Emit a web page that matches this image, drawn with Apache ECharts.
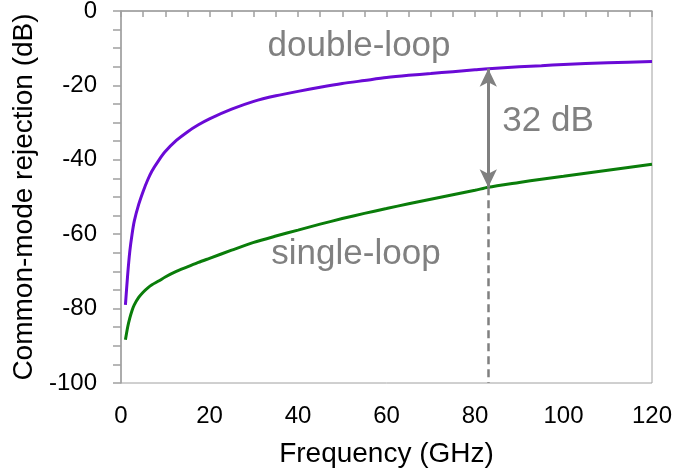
<!DOCTYPE html>
<html>
<head>
<meta charset="utf-8">
<script src="https://cdn.jsdelivr.net/npm/echarts@6/dist/echarts.min.js"></script>
<style>
  html, body { margin: 0; padding: 0; background: #fff; }
  #main { width: 675px; height: 471px; }
</style>
</head>
<body>
<div id="main"></div>
<script>
// frequency points (GHz)
const freq = [1, 1.5, 2, 2.5, 3, 4, 5, 6, 7, 8.5, 10, 12.5, 15, 17.5, 20, 25, 30, 35, 40, 45, 50, 55, 60, 65, 70, 75, 80, 83, 90, 95, 100, 110, 120];
// common-mode rejection (dB)
const doubleLoop = [-79, -71, -64.5, -60, -56.5, -52, -48.5, -45.5, -43, -40.2, -37.8, -34.8, -32.5, -30.6, -29, -26.4, -24.3, -22.8, -21.6, -20.5, -19.5, -18.7, -17.9, -17.3, -16.8, -16.3, -15.8, -15.5, -15.0, -14.7, -14.4, -13.9, -13.6];
const singleLoop = [-88.4, -85, -82.5, -80.5, -79, -77, -75.6, -74.5, -73.6, -72.6, -71.5, -70, -68.8, -67.6, -66.5, -64.3, -62.2, -60.5, -58.9, -57.3, -55.8, -54.4, -53.1, -51.8, -50.6, -49.4, -48.2, -47.4, -46.1, -45.2, -44.4, -42.8, -41.2];
// annotation
const gapFreq = 83;
const gapTop = -15.5;
const gapBottom = -47.4;

const font = 'Liberation Sans, Arial, sans-serif';
const gray = '#808080';

function pairs(xs, ys) {
  return xs.map((x, i) => [x, ys[i]]);
}

const chart = echarts.init(document.getElementById('main'));
chart.setOption({
  animation: false,
  textStyle: { fontFamily: font },
  grid: {
    left: 121, right: 23, top: 11, bottom: 88,
    outerBoundsMode: 'none', containLabel: false,
    show: true, borderColor: '#a0a0a0', borderWidth: 1
  },
  xAxis: {
    type: 'value', min: 0, max: 120, interval: 5,
    name: 'Frequency (GHz)', nameLocation: 'middle', nameGap: 57,
    nameTextStyle: { fontSize: 28, color: '#000', fontFamily: font },
    axisLine: { lineStyle: { color: '#a0a0a0', width: 1.5 } },
    axisTick: { show: true, inside: false, length: 6, lineStyle: { color: '#a0a0a0', width: 1.5 } },
    axisLabel: {
      fontSize: 24, color: '#000', margin: 21, fontFamily: font,
      formatter: v => (v % 20 === 0 ? String(v) : '')
    },
    splitLine: { show: false }
  },
  yAxis: {
    type: 'value', min: -100, max: 0, interval: 5,
    name: 'Common-mode rejection (dB)', nameLocation: 'middle', nameGap: 80,
    nameTextStyle: { fontSize: 28, color: '#000', fontFamily: font },
    axisLine: { show: true, lineStyle: { color: '#a0a0a0', width: 1.5 } },
    axisTick: { show: true, inside: false, length: 8, lineStyle: { color: '#a0a0a0', width: 1.5 } },
    axisLabel: {
      fontSize: 24, color: '#000', margin: 24, fontFamily: font,
      formatter: v => (v % 20 === 0 ? String(v) : '')
    },
    splitLine: { show: false }
  },
  series: [
    {
      name: 'double-loop', type: 'line', smooth: 0.25, showSymbol: false,
      data: pairs(freq, doubleLoop),
      lineStyle: { color: '#6a0ad6', width: 3 },
      itemStyle: { color: '#6a0ad6' },
      markPoint: {
        symbol: 'circle', symbolSize: 0, silent: true,
        label: { show: true, position: 'inside', fontSize: 35, color: gray, fontFamily: font },
        data: [
          { coord: [53.8, -9.4], value: 'double-loop', label: { formatter: 'double-loop' } },
          { coord: [96.5, -29.6], value: '32 dB', label: { formatter: '32 dB' } }
        ]
      },
      markLine: {
        silent: true, symbol: ['arrow', 'arrow'], symbolSize: [13, 18],
        lineStyle: { color: gray, width: 3, type: 'solid' },
        label: { show: false },
        data: [[{ coord: [gapFreq, gapTop] }, { coord: [gapFreq, gapBottom] }]]
      }
    },
    {
      name: 'single-loop', type: 'line', smooth: 0.25, showSymbol: false,
      data: pairs(freq, singleLoop),
      lineStyle: { color: '#0a7d0a', width: 3 },
      itemStyle: { color: '#0a7d0a' },
      markPoint: {
        symbol: 'circle', symbolSize: 0, silent: true,
        label: { show: true, position: 'inside', fontSize: 35, color: gray, fontFamily: font },
        data: [
          { coord: [53.1, -65.3], value: 'single-loop', label: { formatter: 'single-loop' } }
        ]
      },
      markLine: {
        silent: true, symbol: ['none', 'none'],
        lineStyle: { color: gray, width: 2.5, type: [8, 5] },
        label: { show: false },
        data: [[{ coord: [gapFreq, gapBottom] }, { coord: [gapFreq, -100] }]]
      }
    }
  ]
});
</script>
</body>
</html>
